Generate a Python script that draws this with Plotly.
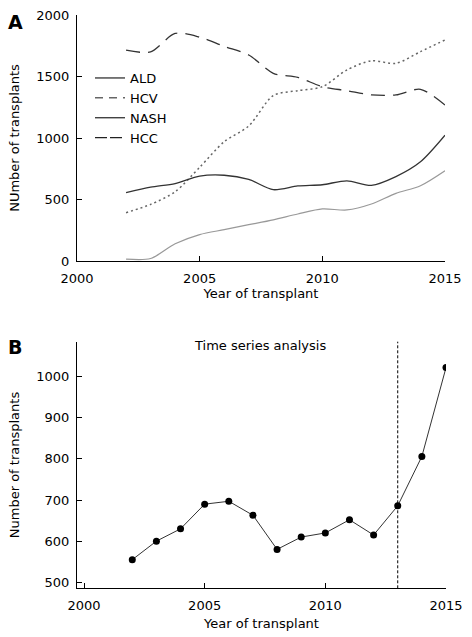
import plotly.graph_objects as go

years = [2002, 2003, 2004, 2005, 2006, 2007, 2008, 2009, 2010, 2011, 2012, 2013, 2014, 2015]

# Panel A series
ald = [555, 600, 630, 690, 697, 663, 580, 610, 620, 652, 615, 686, 806, 1022]
hcv = [1715, 1700, 1850, 1820, 1745, 1675, 1526, 1493, 1417, 1385, 1350, 1350, 1396, 1268]
hcc = [393, 460, 563, 762, 970, 1097, 1345, 1385, 1417, 1553, 1628, 1607, 1702, 1797]
nash = [15, 20, 140, 215, 255, 295, 335, 382, 423, 415, 463, 550, 612, 734]

# Panel B series
ts_values = ald
break_year = 2013

legend_names = ["ALD", "HCV", "NASH", "HCC"]

FONT = "DejaVu Sans"
W, H = 472, 637

fig = go.Figure()

# Panel A lines
fig.add_trace(go.Scatter(x=years, y=hcv, mode="lines", showlegend=False,
                         line=dict(color="#333333", width=1.3, dash="14px,8px", shape="spline", smoothing=0.8),
                         xaxis="x", yaxis="y"))
fig.add_trace(go.Scatter(x=years, y=hcc, mode="lines", showlegend=False,
                         line=dict(color="#666666", width=1.5, dash="2px,3px", shape="spline", smoothing=0.8),
                         xaxis="x", yaxis="y"))
fig.add_trace(go.Scatter(x=years, y=ald, mode="lines", showlegend=False,
                         line=dict(color="#333333", width=1.3, shape="spline", smoothing=0.8),
                         xaxis="x", yaxis="y"))
fig.add_trace(go.Scatter(x=years, y=nash, mode="lines", showlegend=False,
                         line=dict(color="#999999", width=1.2, shape="spline", smoothing=0.8),
                         xaxis="x", yaxis="y"))

# Legend entries (as drawn in the reference legend)
leg_styles = [
    dict(color="#222222", width=1.2),
    dict(color="#666666", width=1.5, dash="8px,6px"),
    dict(color="#222222", width=1.2),
    dict(color="#222222", width=1.2, dash="12px,3px"),
]
for name, st in zip(legend_names, leg_styles):
    fig.add_trace(go.Scatter(x=[None], y=[None], mode="lines", name=name, line=st,
                             xaxis="x", yaxis="y"))

# Panel B
fig.add_trace(go.Scatter(x=years, y=ts_values, mode="lines+markers", showlegend=False,
                         line=dict(color="#333333", width=1),
                         marker=dict(color="black", size=7),
                         xaxis="x2", yaxis="y2"))

fig.add_shape(type="line", xref="x2", yref="y2 domain", x0=break_year, x1=break_year, y0=0, y1=1,
              line=dict(color="black", width=1, dash="3px,2px"))

axis_common = dict(showgrid=False, zeroline=False, showline=True, linecolor="black", linewidth=1.3,
                   ticks="inside", ticklen=5, tickcolor="black", tickwidth=1,
                   tickfont=dict(family=FONT, size=13, color="black"),
                   automargin=False)

fig.update_layout(
    width=W, height=H,
    margin=dict(l=0, r=0, t=0, b=0),
    paper_bgcolor="white", plot_bgcolor="white",
    font=dict(family=FONT, size=13, color="black"),
    xaxis=dict(domain=[77 / W, 445 / W], range=[2000, 2015], tickvals=[2000, 2005, 2010, 2015],
               anchor="y", ticklabelstandoff=5,
               title=dict(text="Year of transplant", standoff=4, font=dict(family=FONT, size=13)),
               **axis_common),
    yaxis=dict(domain=[1 - 261 / H, 1 - 15 / H], range=[0, 2000], tickvals=[0, 500, 1000, 1500, 2000],
               anchor="x", ticklabelstandoff=4,
               title=dict(text="NUmber of transplants", standoff=13, font=dict(family=FONT, size=13)),
               **axis_common),
    xaxis2=dict(domain=[77 / W, 446 / W], range=[1999.71, 2015], tickvals=[2000, 2005, 2010, 2015],
                anchor="y2", ticklabelstandoff=5,
                title=dict(text="Year of transplant", standoff=6, font=dict(family=FONT, size=13)),
                **axis_common),
    yaxis2=dict(domain=[1 - 588.3 / H, 1 - 341.7 / H], range=[485.4, 1085],
                tickvals=[500, 600, 700, 800, 900, 1000],
                anchor="x2", ticklabelstandoff=4,
                title=dict(text="Number of transplants", standoff=13, font=dict(family=FONT, size=13)),
                **axis_common),
    legend=dict(x=90 / W, y=1 - 63 / H, xanchor="left", yanchor="top",
                bgcolor="rgba(0,0,0,0)", font=dict(family=FONT, size=13, color="black"),
                tracegroupgap=0, itemwidth=30),
    annotations=[
        dict(text="<b>A</b>", x=6 / W, y=1 - 22 / H, xref="paper", yref="paper",
             xanchor="left", yanchor="middle", showarrow=False, font=dict(family=FONT, size=19)),
        dict(text="<b>B</b>", x=6 / W, y=1 - 347 / H, xref="paper", yref="paper",
             xanchor="left", yanchor="middle", showarrow=False, font=dict(family=FONT, size=19)),
        dict(text="Time series analysis", x=260 / W, y=1 - 345 / H, xref="paper", yref="paper",
             xanchor="center", yanchor="middle", showarrow=False, font=dict(family=FONT, size=13)),
    ],
)

fig.write_html("out.html", config={"displayModeBar": False},
               post_script="document.body.style.margin='0';document.body.style.overflow='hidden';")
